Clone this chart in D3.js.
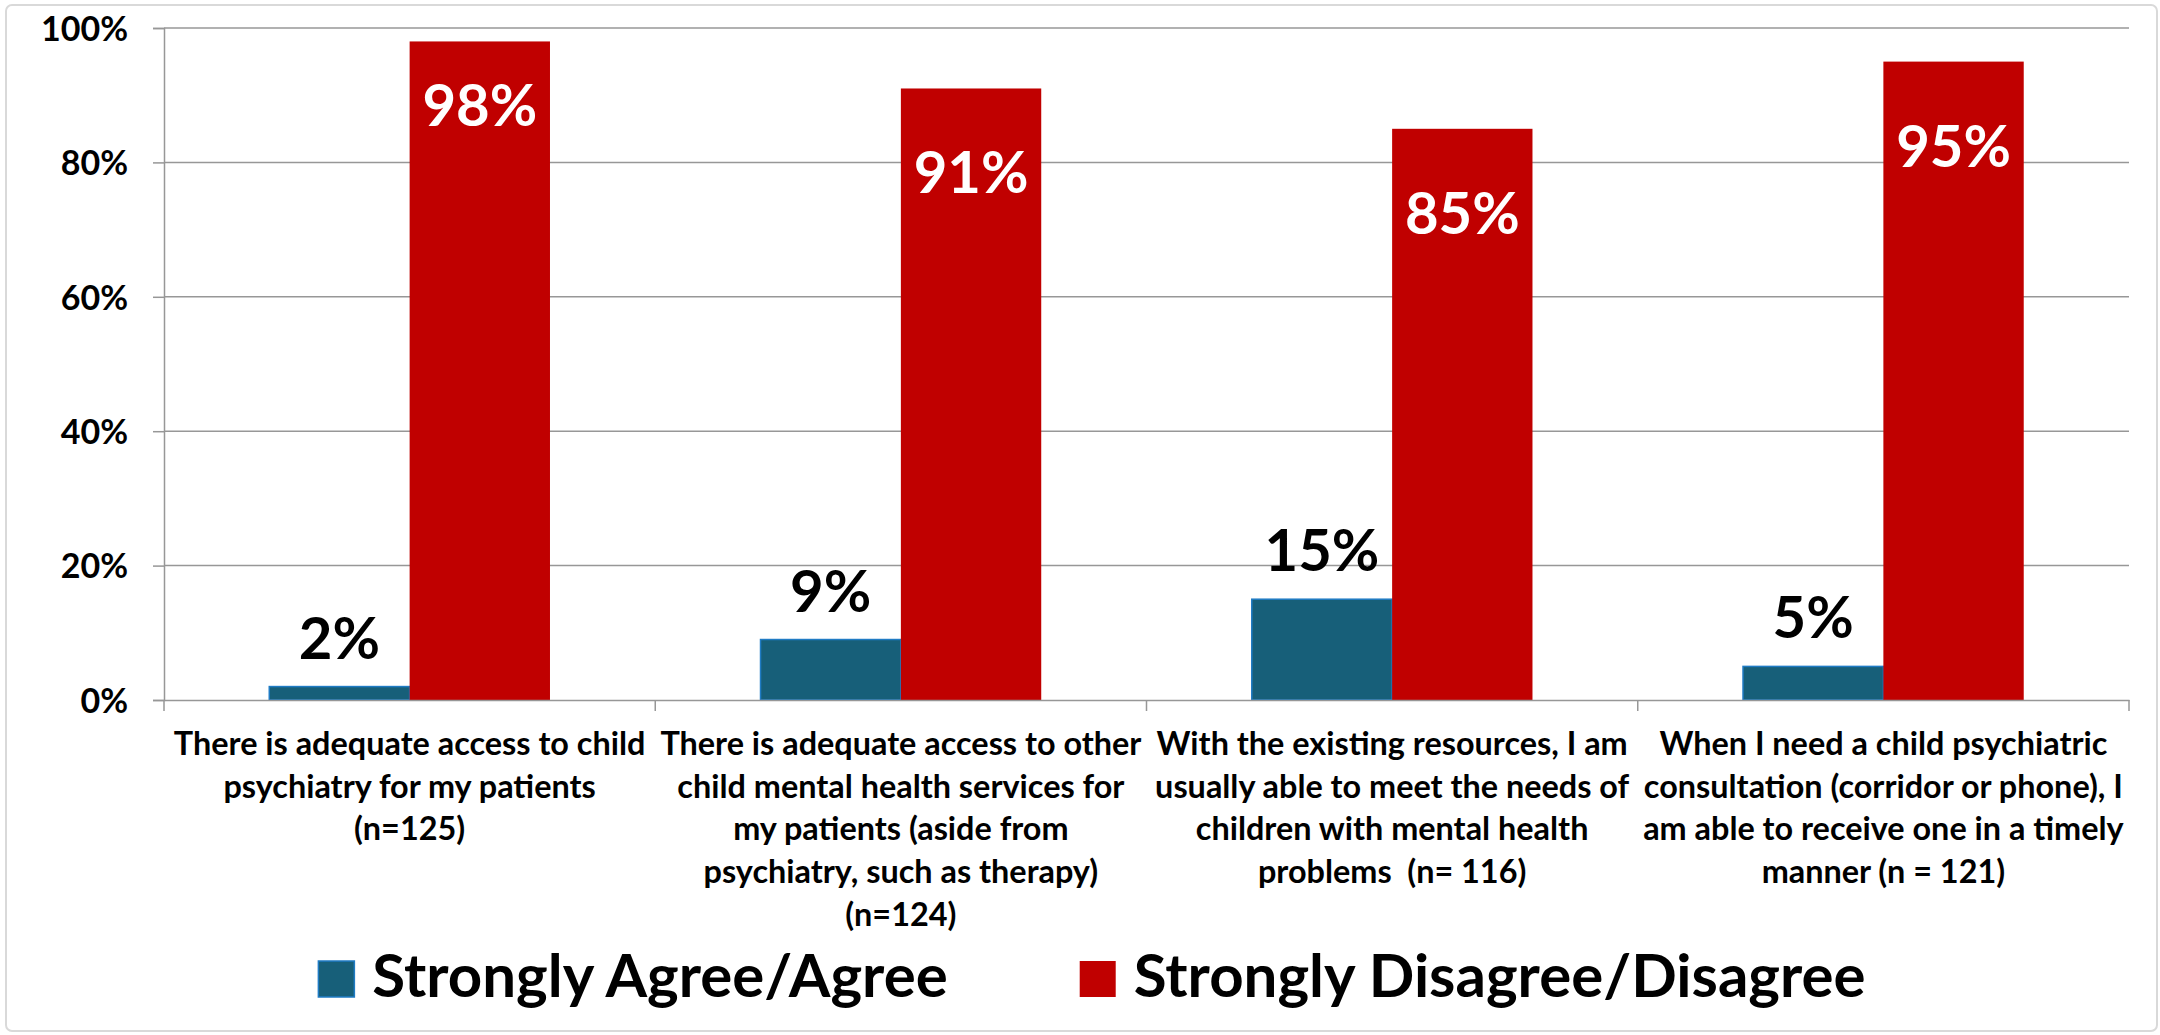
<!DOCTYPE html>
<html>
<head>
<meta charset="utf-8">
<script src="https://cdn.jsdelivr.net/npm/d3@7"></script>
<style>
  html, body { margin: 0; padding: 0; background: #ffffff; }
  svg { display: block; }
  text { font-family: Lato, "Liberation Sans", sans-serif; font-weight: 700; }
</style>
</head>
<body>
<svg id="chart" width="2160" height="1035"></svg>
<script>
// ---- data ----
const categories = [
  ["There is adequate access to child", "psychiatry for my patients", "(n=125)"],
  ["There is adequate access to other", "child mental health services for", "my patients (aside from", "psychiatry, such as therapy)", "(n=124)"],
  ["With the existing resources, I am", "usually able to meet the needs of", "children with mental health", "problems  (n= 116)"],
  ["When I need a child psychiatric", "consultation (corridor or phone), I", "am able to receive one in a timely", "manner (n = 121)"]
];
const seriesNames = ["Strongly Agree/Agree", "Strongly Disagree/Disagree"];
const agreeValues = [0.02, 0.09, 0.15, 0.05];
const disagreeValues = [0.98, 0.91, 0.85, 0.95];
const yTicks = [0, 0.2, 0.4, 0.6, 0.8, 1.0];

// ---- layout / style ----
const W = 2160, H = 1035;
const plot = { left: 164, right: 2129, top: 28, bottom: 700 };
const colors = { agree: "#175f79", agreeStroke: "#1f7bc4", disagree: "#c00000" };
const redLabelDrop = [85, 105, 105, 105];  // baseline distance below bar top

const svg = d3.select("#chart");

// outer border
svg.append("rect")
  .attr("x", 6).attr("y", 5).attr("width", W - 9).attr("height", H - 9)
  .attr("rx", 6).attr("fill", "#ffffff")
  .attr("stroke", "#d9d9d9").attr("stroke-width", 2);

const idx = categories.map((d, i) => i);
const x0 = d3.scaleBand().domain(idx).range([plot.left, plot.right]).paddingInner(0).paddingOuter(0);
const x1 = d3.scaleBand().domain(seriesNames).range([0, x0.bandwidth()]).paddingInner(0).paddingOuter(0.75);
const y = d3.scaleLinear().domain([0, 1]).range([plot.bottom, plot.top]);

// gridlines
svg.append("g").selectAll("line").data(yTicks.filter(t => t > 0)).join("line")
  .attr("x1", plot.left).attr("x2", plot.right)
  .attr("y1", d => y(d)).attr("y2", d => y(d))
  .attr("stroke", "#979797").attr("stroke-width", 1.5);

// y axis
const yAxis = d3.axisLeft(y).tickValues(yTicks).tickFormat(d3.format(".0%")).tickSize(11).tickPadding(25);
const gy = svg.append("g").attr("transform", `translate(${plot.left},0)`).call(yAxis);
gy.select(".domain").attr("stroke", "#979797").attr("stroke-width", 1.5);
gy.selectAll(".tick line").attr("stroke", "#979797").attr("stroke-width", 1.5);
gy.selectAll(".tick text")
  .attr("fill", "#000").attr("font-size", 34)
  .attr("font-family", "Lato, 'Liberation Sans', sans-serif").attr("font-weight", 700)
  .attr("dy", "0.36em");

// bars
const gBars = svg.append("g");
idx.forEach(i => {
  const g = gBars.append("g").attr("transform", `translate(${x0(i)},0)`);
  g.append("rect")
    .attr("x", x1(seriesNames[0])).attr("width", x1.bandwidth())
    .attr("y", y(agreeValues[i])).attr("height", y(0) - y(agreeValues[i]))
    .attr("fill", colors.agree).attr("stroke", colors.agreeStroke).attr("stroke-width", 1.5);
  g.append("rect")
    .attr("x", x1(seriesNames[1])).attr("width", x1.bandwidth())
    .attr("y", y(disagreeValues[i])).attr("height", y(0) - y(disagreeValues[i]))
    .attr("fill", colors.disagree);
  // labels
  g.append("text")
    .attr("x", x1(seriesNames[0]) + x1.bandwidth() / 2)
    .attr("y", y(agreeValues[i]) - 28)
    .attr("text-anchor", "middle").attr("font-size", 58).attr("fill", "#000")
    .text(d3.format(".0%")(agreeValues[i]));
  g.append("text")
    .attr("x", x1(seriesNames[1]) + x1.bandwidth() / 2)
    .attr("y", y(disagreeValues[i]) + redLabelDrop[i])
    .attr("text-anchor", "middle").attr("font-size", 58).attr("fill", "#fff")
    .text(d3.format(".0%")(disagreeValues[i]));
});

// x axis
const xAxis = d3.axisBottom(x0).tickSize(0).tickFormat("");
const gx = svg.append("g").attr("transform", `translate(0,${plot.bottom})`).call(xAxis);
gx.select(".domain").attr("stroke", "#979797").attr("stroke-width", 1.5);
// category boundary ticks
const bounds = idx.map(i => x0(i)).concat([plot.right]);
gx.selectAll("line.bound").data(bounds).join("line").attr("class", "bound")
  .attr("x1", d => d).attr("x2", d => d).attr("y1", 0).attr("y2", 11)
  .attr("stroke", "#979797").attr("stroke-width", 1.5);

// x labels
const gxl = svg.append("g");
idx.forEach(i => {
  const t = gxl.append("text")
    .attr("x", x0(i) + x0.bandwidth() / 2).attr("y", 755)
    .attr("text-anchor", "middle").attr("font-size", 32.4).attr("fill", "#000");
  categories[i].forEach((line, k) => {
    t.append("tspan").attr("x", x0(i) + x0.bandwidth() / 2)
      .attr("y", 755 + k * 42.7).attr("xml:space", "preserve").text(line);
  });
});

// legend
const legend = svg.append("g");
const sq = 36, gapText = 18, gapItem = 132, legendCenter = 1092, legendBaseline = 997;
const items = seriesNames.map((name, k) => {
  const g = legend.append("g");
  g.append("rect").attr("width", sq).attr("height", sq)
    .attr("y", legendBaseline - sq)
    .attr("fill", k === 0 ? colors.agree : colors.disagree)
    .attr("stroke", k === 0 ? colors.agreeStroke : "none").attr("stroke-width", 1.5);
  const tx = g.append("text").attr("x", sq + gapText).attr("y", legendBaseline)
    .attr("font-size", 60).attr("fill", "#000").text(name);
  return { g, w: sq + gapText + tx.node().getComputedTextLength() };
});
const totalW = items[0].w + gapItem + items[1].w;
let cx = legendCenter - totalW / 2;
items.forEach(it => { it.g.attr("transform", `translate(${cx},0)`); cx += it.w + gapItem; });
</script>
</body>
</html>
